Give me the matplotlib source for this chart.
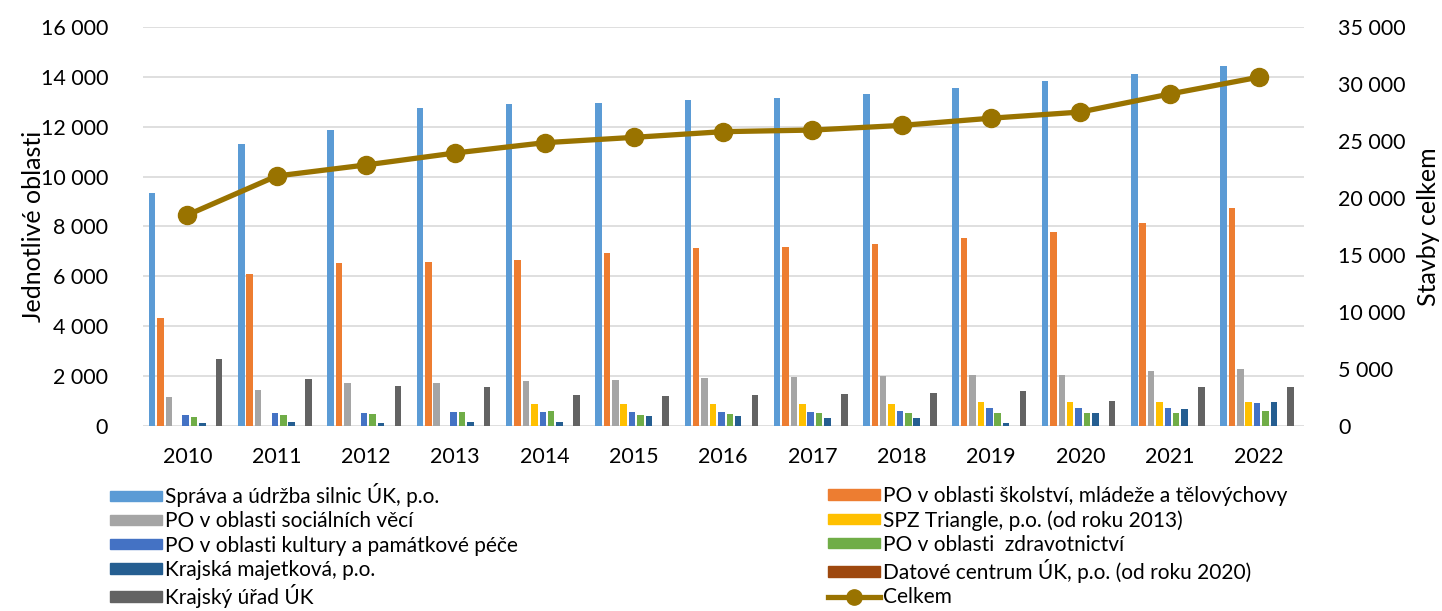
import numpy as np
import matplotlib.pyplot as plt
from matplotlib.ticker import FuncFormatter, MultipleLocator
from matplotlib.lines import Line2D
from matplotlib.patches import Patch

plt.rcParams["font.family"] = ["Lato", "DejaVu Sans"]

years = [str(y) for y in range(2010, 2023)]

sprava = [9360, 11320, 11880, 12750, 12900, 12950, 13090, 13160, 13320, 13570, 13850, 14120, 14430]
skolstvi = [4320, 6100, 6520, 6590, 6640, 6930, 7130, 7160, 7290, 7550, 7770, 8160, 8760]
socialni = [1170, 1450, 1710, 1730, 1800, 1850, 1920, 1950, 2010, 2040, 2050, 2190, 2280]
spz = [0, 0, 0, 0, 880, 880, 880, 880, 880, 950, 950, 950, 950]
kultura = [450, 510, 530, 570, 560, 570, 570, 570, 610, 720, 720, 730, 920]
zdravotnictvi = [350, 450, 490, 550, 590, 440, 480, 530, 530, 530, 530, 530, 610]
majetkova = [110, 150, 110, 150, 170, 410, 400, 330, 330, 120, 530, 680, 960]
datove = [0, 0, 0, 0, 0, 0, 0, 0, 0, 0, 0, 0, 0]
urad = [2670, 1870, 1600, 1570, 1230, 1190, 1240, 1290, 1320, 1410, 990, 1560, 1560]
celkem = [18510, 21930, 22900, 23950, 24850, 25320, 25820, 25960, 26370, 27000, 27540, 29120, 30600]

names = [
    "Správa a údržba silnic ÚK, p.o.",
    "PO v oblasti školství, mládeže a tělovýchovy",
    "PO v oblasti sociálních věcí",
    "SPZ Triangle, p.o. (od roku 2013)",
    "PO v oblasti kultury a památkové péče",
    "PO v oblasti  zdravotnictví",
    "Krajská majetková, p.o.",
    "Datové centrum ÚK, p.o. (od roku 2020)",
    "Krajský úřad ÚK",
]
series = [sprava, skolstvi, socialni, spz, kultura, zdravotnictvi, majetkova, datove, urad]
colors = ["#5B9BD5", "#ED7D31", "#A5A5A5", "#FFC000", "#4472C4",
          "#70AD47", "#255E91", "#9E480E", "#636363"]
line_color = "#997300"


def fmt(v, pos):
    return f"{v:,.0f}".replace(",", " ")


fig = plt.figure(figsize=(14.42, 6.11), dpi=100)
ax = fig.add_axes([0.099, 0.3028, 0.805, 0.653])

x = np.arange(len(years))
slot = 0.094
width = 0.073
for i, (vals, c) in enumerate(zip(series, colors)):
    ax.bar(x + (i - 4) * slot - 0.02, vals, width, color=c, zorder=2)

ax.set_xlim(-0.5, len(years) - 0.5)
ax.set_ylim(0, 16000)
ax.yaxis.set_major_locator(MultipleLocator(2000))
ax.yaxis.set_major_formatter(FuncFormatter(fmt))
ax.grid(axis="y", color="#D9D9D9", linewidth=1.2, zorder=0)
ax.set_axisbelow(True)
ax.set_xticks(x)
ax.set_xticklabels(years)
ax.tick_params(axis="both", length=0, labelsize=15.5, colors="#000000")
ax.tick_params(axis="x", pad=15)
ax.tick_params(axis="y", pad=25)
for s in ax.spines.values():
    s.set_visible(False)
ax.set_ylabel("Jednotlivé oblasti", fontsize=18, labelpad=-3)

ax2 = ax.twinx()
ax2.plot(x, celkem, color=line_color, linewidth=3.8, marker="o", markersize=13, zorder=5)
ax2.set_ylim(0, 35000)
ax2.yaxis.set_major_locator(MultipleLocator(5000))
ax2.yaxis.set_major_formatter(FuncFormatter(fmt))
ax2.tick_params(axis="y", length=0, labelsize=15.5, pad=25)
for s in ax2.spines.values():
    s.set_visible(False)
ax2.set_ylabel("Stavby celkem", fontsize=18, labelpad=8)

# two legend columns, filled row by row
left_idx = [0, 2, 4, 6, 8]
right_idx = [1, 3, 5, 7]
left_h = [Patch(color=colors[i]) for i in left_idx]
right_h = [Patch(color=colors[i]) for i in right_idx]
right_h.append(Line2D([], [], color=line_color, linewidth=3.8, marker="o", markersize=11))
right_l = [names[i] for i in right_idx] + ["Celkem"]

leg_kw = dict(frameon=False, fontsize=15, handlelength=2.5, handleheight=0.4,
              handletextpad=0.15, labelspacing=0.2, borderaxespad=0,
              borderpad=0)
fig.legend(left_h, [names[i] for i in left_idx], loc="upper left",
           bbox_to_anchor=(0.0763, 0.209), **leg_kw)
fig.legend(right_h, right_l, loc="upper left",
           bbox_to_anchor=(0.5742, 0.205), **leg_kw)

fig.savefig("out.png", dpi=100)
